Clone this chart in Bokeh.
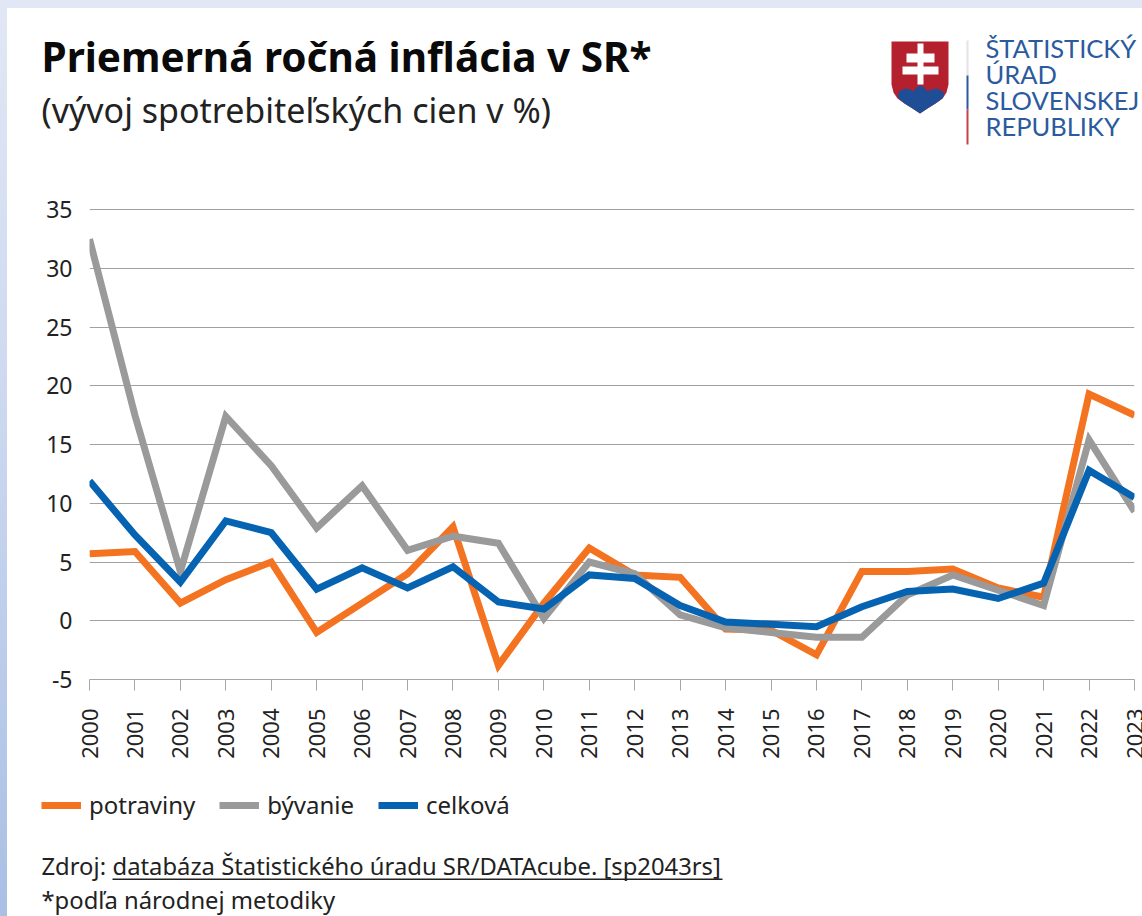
from bokeh.plotting import figure
from bokeh.embed import file_html
from bokeh.resources import INLINE
from bokeh.models import Label, Legend, LegendItem, FixedTicker

years = list(range(2000, 2024))
potraviny = [5.7, 5.9, 1.5, 3.5, 5.0, -1.0, 1.5, 4.0, 8.0, -3.8, 1.5, 6.2, 3.9, 3.7, -0.7, -0.8, -2.9, 4.2, 4.2, 4.4, 2.8, 2.0, 19.3, 17.5]
byvanie = [32.5, 17.5, 4.2, 17.4, 13.2, 7.9, 11.5, 6.0, 7.2, 6.6, 0.2, 5.0, 4.0, 0.5, -0.6, -1.0, -1.4, -1.4, 2.2, 3.9, 2.6, 1.3, 15.4, 9.3]
celkova = [11.9, 7.3, 3.3, 8.5, 7.5, 2.7, 4.5, 2.8, 4.6, 1.6, 1.0, 3.9, 3.6, 1.3, -0.1, -0.3, -0.5, 1.2, 2.5, 2.7, 1.9, 3.2, 12.8, 10.5]
y_ticks = [-5, 0, 5, 10, 15, 20, 25, 30, 35]
series_names = ["potraviny", "bývanie", "celková"]
series_colors = ["#F47321", "#9A9A9A", "#0563B2"]
FONT = "Noto Sans"
LW = 7

def panel(top, bottom):
    """A figure without axes whose data coordinates are the picture's own pixels."""
    f = figure(width=1135, height=bottom - top, output_backend="svg", toolbar_location=None,
               x_range=(7, 1142), y_range=(bottom, top), min_border=0,
               x_axis_type=None, y_axis_type=None)
    f.outline_line_color = None
    f.grid.visible = False
    f.background_fill_color = None
    f.border_fill_color = None
    return f

def txt(f, x, y, s, size, color="#111111", font=FONT, style="normal"):
    f.add_layout(Label(x=x, y=y, text=s, text_font=font, text_font_size=f"{size}px", text_color=color,
                       text_font_style=style, text_baseline="alphabetic"))

# header
head = panel(8, 185)
txt(head, 41, 56, "Priemerná ročná inflácia v SR*", 40.5, "#0a0a0a", style="bold")
txt(head, 41, 109, "(vývoj spotrebiteľských cien v %)", 34, "#222222")
head.patch([891, 948, 948, 946, 942, 935, 927, 919.5, 912, 904, 897, 893, 891],
           [41, 41, 84, 92, 98, 103, 108, 113, 108, 103, 98, 92, 84], fill_color="#B5202F", line_color=None)
head.patch([897, 900, 905, 910, 913, 916, 920, 924, 927, 931, 936, 941, 944, 942, 935, 927, 919.5, 912, 904, 898],
           [94, 90, 88, 89, 91, 87, 85, 87, 91, 89, 88, 90, 94, 98, 103, 108, 113, 108, 103, 98],
           fill_color="#1F4E96", line_color=None)
head.quad(left=[917, 906, 902], right=[923, 934, 938], top=[43, 53, 66], bottom=[84, 62, 74],
          fill_color="#FFFFFF", line_color=None)
head.quad(left=[966, 966, 966], right=[968, 968, 968], top=[40, 75, 109], bottom=[75, 109, 144],
          fill_color=["#E4E4E4", "#2B5A9E", "#C8414B"], line_color=None)
for i, s in enumerate(["ŠTATISTICKÝ", "ÚRAD", "SLOVENSKEJ", "REPUBLIKY"]):
    txt(head, 985, 47.5 + i * 26, s, 25.5, "#2B5A9E", font="Lato")

# chart
p = figure(width=1135, height=590, output_backend="svg", toolbar_location=None,
           x_range=(2000, 2023), y_range=(-5, 35.1),
           min_border_left=82, min_border_right=8, min_border_top=23, min_border_bottom=96)
p.outline_line_color = None
p.background_fill_color = None
p.border_fill_color = None
p.xgrid.visible = False
p.ygrid.ticker = FixedTicker(ticks=y_ticks)
p.ygrid.grid_line_color = "#A0A0A0"
p.ygrid.grid_line_width = 1.2

p.xaxis.ticker = FixedTicker(ticks=years)
p.xaxis.major_label_overrides = {y: str(y) for y in years}
p.xaxis.major_label_orientation = 3.14159265 / 2
p.xaxis.major_label_text_font = FONT
p.xaxis.major_label_text_font_size = "22px"
p.xaxis.major_label_text_color = "#222222"
p.xaxis.major_label_standoff = 18
p.xaxis.axis_line_color = "#A6A6A6"
p.xaxis.major_tick_line_color = "#A6A6A6"
p.xaxis.major_tick_out = 11
p.xaxis.major_tick_in = 0
p.xaxis.minor_tick_line_color = None

p.yaxis.ticker = FixedTicker(ticks=y_ticks)
p.yaxis.major_label_overrides = {y: str(y) for y in y_ticks}
p.yaxis.major_label_text_font = FONT
p.yaxis.major_label_text_font_size = "23px"
p.yaxis.major_label_text_color = "#222222"
p.yaxis.axis_line_color = None
p.yaxis.major_tick_line_color = None
p.yaxis.minor_tick_line_color = None
p.yaxis.major_label_standoff = 11

for vals, col in zip([potraviny, byvanie, celkova], series_colors):
    p.line(years, vals, line_color=col, line_width=LW, line_join="miter")

# footer with legend and source
foot = panel(775, 916)
items = []
for name, col in zip(series_names, series_colors):
    r = foot.line([-100, -90], [-100, -100], line_color=col, line_width=LW)
    items.append(LegendItem(label=name, renderers=[r]))
leg = Legend(items=items, orientation="horizontal", location=(34, 95), padding=0, margin=0,
             spacing=24, glyph_width=40, glyph_height=30, label_standoff=8, label_height=30,
             label_text_font=FONT, label_text_font_size="24px", label_text_color="#222222",
             background_fill_alpha=0, border_line_color=None)
foot.add_layout(leg)
txt(foot, 41, 865, "Zdroj: ", 23.8, "#222222")
txt(foot, 112, 865, "databáza Štatistického úradu SR/DATAcube. [sp2043rs]", 23.8, "#222222")
foot.quad(left=[112], right=[722], top=[878], bottom=[879.5], fill_color="#222222", line_color=None)
txt(foot, 41, 899, "*podľa národnej metodiky", 23.8, "#222222")

html = file_html([head, p, foot], INLINE)
html = html.replace("</head>", "<style>html,body{margin:0 !important;overflow:hidden;box-sizing:border-box;}html{background:linear-gradient(#fff,#fff) 7px 8px / 100% 100% no-repeat,linear-gradient(180deg,#E1E7F5 0%,#CFDAF0 40%,#AABFE5 100%) !important;}body{background:transparent !important;padding:8px 0 0 7px !important;display:flex !important;flex-direction:column;align-items:flex-start;}</style></head>", 1)
open("out.html", "w").write(html)
